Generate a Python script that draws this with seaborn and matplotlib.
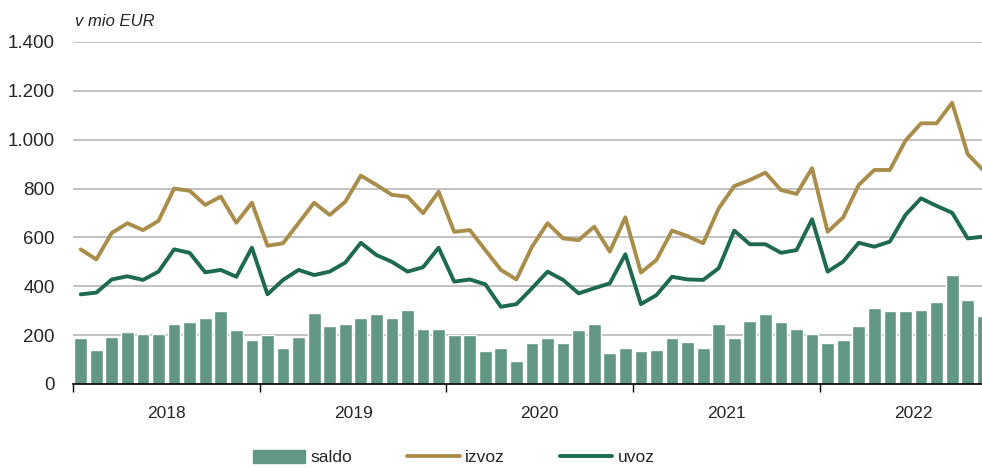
import numpy as np
import pandas as pd
import matplotlib
matplotlib.use("Agg")
import matplotlib.pyplot as plt
import seaborn as sns
from matplotlib.patches import Patch
from matplotlib.lines import Line2D
from matplotlib.ticker import FuncFormatter, FixedLocator

# monthly data, Jan 2018 - Nov 2022 (v mio EUR)
saldo = [187, 140, 194, 213, 206, 206, 246, 253, 271, 298, 220, 180,
         200, 147, 194, 291, 239, 246, 271, 285, 271, 303, 225, 225,
         200, 200, 134, 147, 94, 167, 187, 167, 220, 246, 128, 147,
         134, 140, 187, 173, 147, 246, 187, 259, 285, 253, 226, 206,
         167, 180, 239, 311, 299, 299, 304, 337, 447, 344, 278]
izvoz = [551, 510, 619, 658, 630, 668, 800, 791, 733, 767, 660, 742,
         566, 576, 659, 742, 692, 746, 853, 815, 774, 767, 699, 787,
         623, 630, 548, 467, 428, 562, 658, 596, 589, 644, 542, 682,
         456, 508, 628, 605, 576, 719, 810, 835, 865, 794, 778, 883,
         623, 682, 815, 876, 876, 996, 1067, 1067, 1151, 941, 875]
uvoz = [367, 374, 428, 441, 426, 460, 551, 537, 457, 467, 439, 558,
        367, 426, 467, 446, 460, 497, 578, 528, 500, 460, 478, 558,
        419, 428, 408, 316, 327, 392, 460, 426, 371, 392, 412, 531,
        327, 364, 439, 428, 426, 474, 628, 572, 572, 537, 548, 674,
        460, 501, 578, 562, 583, 692, 760, 729, 701, 596, 603]
years = ["2018", "2019", "2020", "2021", "2022"]

c_saldo = "#629784"
c_izvoz = "#A98D4B"
c_uvoz = "#1E6A4F"

df = pd.DataFrame({"m": np.arange(len(saldo)), "saldo": saldo,
                   "izvoz": izvoz, "uvoz": uvoz})

sns.set_style("white")
plt.rcParams["font.family"] = ["Liberation Sans", "DejaVu Sans"]

fig = plt.figure(figsize=(9.82, 4.68), dpi=100)
ax = fig.add_axes([0.0743, 0.1795, 0.9257, 0.7308])

sns.barplot(data=df, x="m", y="saldo", color=c_saldo, width=0.82,
            saturation=1, ax=ax, zorder=2)
sns.lineplot(data=df, x="m", y="izvoz", color=c_izvoz, linewidth=2.8,
             ax=ax, zorder=3)
sns.lineplot(data=df, x="m", y="uvoz", color=c_uvoz, linewidth=2.8,
             ax=ax, zorder=3)

ax.set_xlim(-0.5, 57.92)
ax.set_ylim(0, 1400)
ax.set_yticks(range(0, 1401, 200))
ax.yaxis.set_major_formatter(FuncFormatter(lambda v, p: f"{int(v):,}".replace(",", ".")))
ax.grid(axis="y", color="#BDBDBD", linewidth=1.3, zorder=0)
ax.set_axisbelow(True)

ax.xaxis.set_major_locator(FixedLocator([11.5 + 12 * k for k in range(4)] + [-0.5]))
ax.xaxis.set_minor_locator(FixedLocator([5.5 + 12 * k for k in range(5)]))
ax.set_xticklabels([], minor=False)
ax.set_xticklabels(years, minor=True)
ax.tick_params(axis="x", which="major", length=6, width=1, color="black", bottom=True)
ax.tick_params(axis="x", which="minor", length=0, pad=16, labelsize=12.5)
ax.tick_params(axis="y", length=0, pad=13, labelsize=13.5)
ax.set_xlabel("")
ax.set_ylabel("")

for s in ["top", "right", "left"]:
    ax.spines[s].set_visible(False)
ax.spines["bottom"].set_color("black")
ax.spines["bottom"].set_linewidth(1.2)

fig.text(0.0765, 0.955, "v mio EUR", style="italic", fontsize=12, va="center")

handles = [Patch(color=c_saldo, label="saldo"),
           Line2D([0], [0], color=c_izvoz, linewidth=2.8, label="izvoz"),
           Line2D([0], [0], color=c_uvoz, linewidth=2.8, label="uvoz")]
fig.legend(handles=handles, loc="center", bbox_to_anchor=(0.462, 0.022),
           ncol=3, frameon=False, fontsize=12.5, handlelength=3.0,
           handleheight=0.75, handletextpad=0.3, columnspacing=3.2)

fig.savefig("out.png", dpi=100)
